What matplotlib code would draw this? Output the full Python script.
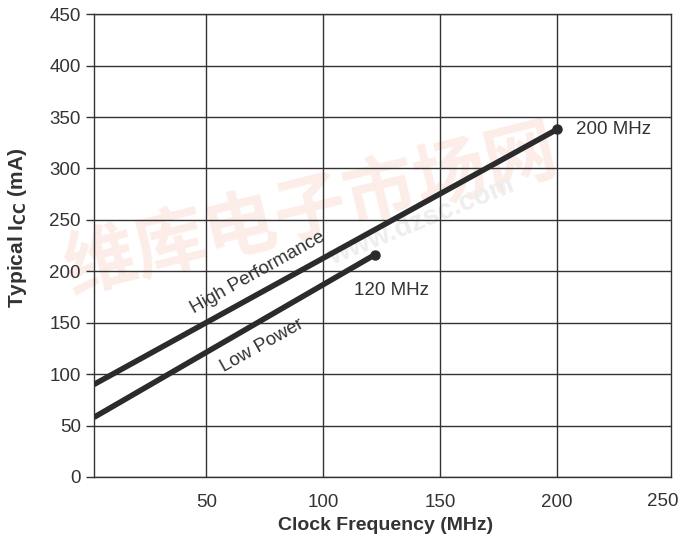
import matplotlib.pyplot as plt
import matplotlib.transforms as mtransforms

plt.rcParams['font.family'] = ['Liberation Sans', 'DejaVu Sans']

# data
hp_freq = [2, 200]
hp_icc = [90, 338]
lp_freq = [2, 122]
lp_icc = [58, 216]
x_ticks = [50, 100, 150, 200]
y_ticks = [0, 50, 100, 150, 200, 250, 300, 350, 400, 450]

ink = '#2b2b2b'
grid_c = '#333333'
txt_c = '#333333'

fig = plt.figure(figsize=(6.91, 5.40), dpi=100)
ax = fig.add_axes([0.136, 0.1167, 0.835, 0.857])

# faint watermark, as in the source scan (kept under the grid)
ax.text(0.45, 0.61, '维库电子市场网', transform=fig.transFigure,
        family=['Noto Sans CJK SC', 'DejaVu Sans'], fontsize=52,
        fontweight='bold', color='#fcede8', rotation=14,
        ha='center', va='center', zorder=0.1)
ax.text(0.61, 0.59, 'www.dzsc.com', transform=fig.transFigure, fontsize=20,
        fontweight='bold', color='#eeeeee', rotation=22,
        ha='center', va='center', zorder=0.2)

ax.set_xlim(2, 248.7)
ax.set_ylim(0, 450)
ax.set_xticks(x_ticks)
ax.set_yticks(y_ticks)
ax.grid(True, color=grid_c, linewidth=1.0, zorder=0.5)
ax.set_axisbelow(True)
for s in ax.spines.values():
    s.set_color(grid_c)
    s.set_linewidth(1.0)
ax.tick_params(axis='x', length=0, pad=12, labelsize=13.5, labelcolor=txt_c)
ax.tick_params(axis='y', length=6, width=1.0, color=grid_c, pad=3.5,
               labelsize=13.5, labelcolor=txt_c)

# the last x label sits left of the right border, so it is placed by hand
trans = mtransforms.blended_transform_factory(ax.transData, ax.transAxes)
ax.text(245, -0.034, '250', transform=trans, ha='center', va='top',
        fontsize=13.5, color=txt_c)

ax.plot(hp_freq, hp_icc, color=ink, linewidth=4, solid_capstyle='butt', zorder=3)
ax.plot(lp_freq, lp_icc, color=ink, linewidth=4, solid_capstyle='butt', zorder=3)
ax.plot([hp_freq[-1]], [hp_icc[-1]], 'o', color=ink, markersize=6.5, zorder=4)
ax.plot([lp_freq[-1]], [lp_icc[-1]], 'o', color=ink, markersize=6.5, zorder=4)

ax.text(72, 199, 'High Performance', rotation=29.2, rotation_mode='anchor',
        ha='center', va='center', fontsize=13.5, color=txt_c)
ax.text(74, 128, 'Low Power', rotation=29.2, rotation_mode='anchor',
        ha='center', va='center', fontsize=13.5, color=txt_c)
ax.text(129, 181, '120 MHz', ha='center', va='center', fontsize=13.5, color=txt_c)
ax.text(224, 338, '200 MHz', ha='center', va='center', fontsize=13.5, color=txt_c)

fig.text(386 / 691, 1 - 526 / 540, 'Clock Frequency (MHz)', ha='center',
         va='center', fontsize=14, fontweight='bold', color=txt_c)
fig.text(18 / 691, 1 - 228 / 540, r'Typical I$_{\mathbf{CC}}$ (mA)',
         rotation=90, ha='center', va='center', fontsize=15,
         fontweight='bold', color=txt_c)

fig.savefig('out.png', dpi=100)
